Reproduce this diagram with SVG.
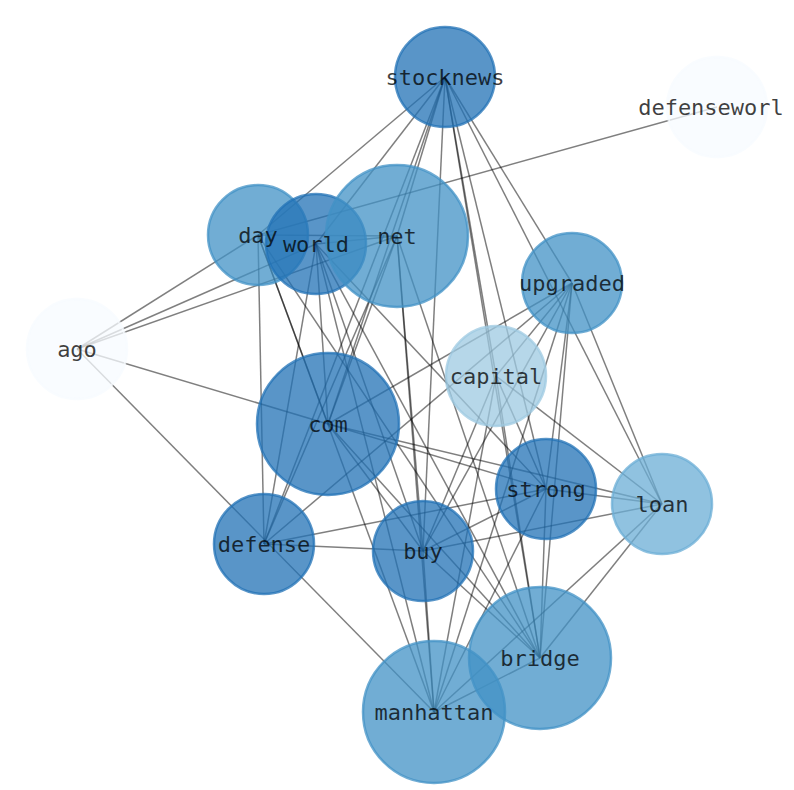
<svg xmlns="http://www.w3.org/2000/svg" width="794" height="790" viewBox="0 0 794 790">
<style>
.e{stroke:#000;stroke-opacity:0.5;stroke-width:1.5;fill:none}
.n{fill-opacity:0.75;stroke-opacity:0.75;stroke-width:2.5}
.c1{fill:#2171b5;stroke:#2171b5}
.c2{fill:#4292c6;stroke:#4292c6}
.c3{fill:#6baed6;stroke:#6baed6}
.c4{fill:#9ecae1;stroke:#9ecae1}
.c5{fill:#f7fbff;stroke:#f7fbff}
.t{font-family:"DejaVu Sans Mono","Liberation Mono",monospace;font-size:22px;fill:#000;fill-opacity:0.75;text-anchor:middle}
</style>
<rect width="794" height="790" fill="#fff"/>
<g id="edges">
<line class="e" x1="445" y1="77" x2="258" y2="235"/>
<line class="e" x1="445" y1="77" x2="316" y2="244"/>
<line class="e" x1="445" y1="77" x2="397" y2="236"/>
<line class="e" x1="445" y1="77" x2="328" y2="424"/>
<line class="e" x1="445" y1="77" x2="264" y2="544"/>
<line class="e" x1="445" y1="77" x2="423" y2="551"/>
<line class="e" x1="445" y1="77" x2="496" y2="376"/>
<line class="e" x1="445" y1="77" x2="546" y2="489"/>
<line class="e" x1="445" y1="77" x2="540" y2="658"/>
<line class="e" x1="445" y1="77" x2="572" y2="283"/>
<line class="e" x1="445" y1="77" x2="662" y2="504"/>
<line class="e" x1="717" y1="107" x2="258" y2="235"/>
<line class="e" x1="77" y1="349" x2="258" y2="235"/>
<line class="e" x1="77" y1="349" x2="316" y2="244"/>
<line class="e" x1="77" y1="349" x2="397" y2="236"/>
<line class="e" x1="77" y1="349" x2="328" y2="424"/>
<line class="e" x1="77" y1="349" x2="434" y2="712"/>
<line class="e" x1="258" y1="235" x2="397" y2="236"/>
<line class="e" x1="258" y1="235" x2="264" y2="544"/>
<line class="e" x1="258" y1="235" x2="328" y2="424"/>
<line class="e" x1="258" y1="235" x2="434" y2="712"/>
<line class="e" x1="258" y1="235" x2="540" y2="658"/>
<line class="e" x1="316" y1="244" x2="397" y2="236"/>
<line class="e" x1="316" y1="244" x2="328" y2="424"/>
<line class="e" x1="316" y1="244" x2="264" y2="544"/>
<line class="e" x1="316" y1="244" x2="423" y2="551"/>
<line class="e" x1="316" y1="244" x2="546" y2="489"/>
<line class="e" x1="316" y1="244" x2="540" y2="658"/>
<line class="e" x1="316" y1="244" x2="434" y2="712"/>
<line class="e" x1="397" y1="236" x2="328" y2="424"/>
<line class="e" x1="397" y1="236" x2="264" y2="544"/>
<line class="e" x1="397" y1="236" x2="423" y2="551"/>
<line class="e" x1="397" y1="236" x2="434" y2="712"/>
<line class="e" x1="397" y1="236" x2="540" y2="658"/>
<line class="e" x1="572" y1="283" x2="496" y2="376"/>
<line class="e" x1="572" y1="283" x2="328" y2="424"/>
<line class="e" x1="572" y1="283" x2="264" y2="544"/>
<line class="e" x1="572" y1="283" x2="423" y2="551"/>
<line class="e" x1="572" y1="283" x2="546" y2="489"/>
<line class="e" x1="572" y1="283" x2="540" y2="658"/>
<line class="e" x1="572" y1="283" x2="434" y2="712"/>
<line class="e" x1="572" y1="283" x2="662" y2="504"/>
<line class="e" x1="496" y1="376" x2="423" y2="551"/>
<line class="e" x1="496" y1="376" x2="540" y2="658"/>
<line class="e" x1="496" y1="376" x2="434" y2="712"/>
<line class="e" x1="496" y1="376" x2="662" y2="504"/>
<line class="e" x1="496" y1="376" x2="546" y2="489"/>
<line class="e" x1="328" y1="424" x2="546" y2="489"/>
<line class="e" x1="328" y1="424" x2="662" y2="504"/>
<line class="e" x1="328" y1="424" x2="423" y2="551"/>
<line class="e" x1="328" y1="424" x2="540" y2="658"/>
<line class="e" x1="546" y1="489" x2="662" y2="504"/>
<line class="e" x1="546" y1="489" x2="423" y2="551"/>
<line class="e" x1="546" y1="489" x2="264" y2="544"/>
<line class="e" x1="546" y1="489" x2="540" y2="658"/>
<line class="e" x1="546" y1="489" x2="434" y2="712"/>
<line class="e" x1="662" y1="504" x2="423" y2="551"/>
<line class="e" x1="662" y1="504" x2="540" y2="658"/>
<line class="e" x1="662" y1="504" x2="434" y2="712"/>
<line class="e" x1="423" y1="551" x2="264" y2="544"/>
<line class="e" x1="423" y1="551" x2="434" y2="712"/>
<line class="e" x1="423" y1="551" x2="540" y2="658"/>
<line class="e" x1="540" y1="658" x2="434" y2="712"/>
</g>
<g id="nodes">
<g id="node-ago"><circle class="n c5" cx="77" cy="349" r="50"/></g>
<g id="node-defenseworl"><circle class="n c5" cx="717" cy="107" r="50"/></g>
<g id="node-capital"><circle class="n c4" cx="496" cy="376" r="50"/></g>
<g id="node-loan"><circle class="n c3" cx="662" cy="504" r="50"/></g>
<g id="node-stocknews"><circle class="n c1" cx="445" cy="77" r="50"/></g>
<g id="node-upgraded"><circle class="n c2" cx="572" cy="283" r="50"/></g>
<g id="node-day"><circle class="n c2" cx="258" cy="235" r="50"/></g>
<g id="node-world"><circle class="n c1" cx="316" cy="244" r="50"/></g>
<g id="node-net"><circle class="n c2" cx="397" cy="236" r="71"/></g>
<g id="node-com"><circle class="n c1" cx="328" cy="424" r="71"/></g>
<g id="node-strong"><circle class="n c1" cx="546" cy="489" r="50"/></g>
<g id="node-defense"><circle class="n c1" cx="264" cy="544" r="50"/></g>
<g id="node-buy"><circle class="n c1" cx="423" cy="551" r="50"/></g>
<g id="node-bridge"><circle class="n c2" cx="540" cy="658" r="71"/></g>
<g id="node-manhattan"><circle class="n c2" cx="434" cy="712" r="71"/></g>
</g>
<g id="labels">
<text id="label-ago" class="t" x="77" y="357">ago</text>
<text id="label-defenseworl" class="t" x="711" y="115">defenseworl</text>
<text id="label-capital" class="t" x="496" y="384">capital</text>
<text id="label-loan" class="t" x="662" y="512">loan</text>
<text id="label-stocknews" class="t" x="445" y="85">stocknews</text>
<text id="label-upgraded" class="t" x="572" y="291">upgraded</text>
<text id="label-day" class="t" x="258" y="243">day</text>
<text id="label-world" class="t" x="316" y="252">world</text>
<text id="label-net" class="t" x="397" y="244">net</text>
<text id="label-com" class="t" x="328" y="432">com</text>
<text id="label-strong" class="t" x="546" y="497">strong</text>
<text id="label-defense" class="t" x="264" y="552">defense</text>
<text id="label-buy" class="t" x="423" y="559">buy</text>
<text id="label-bridge" class="t" x="540" y="666">bridge</text>
<text id="label-manhattan" class="t" x="434" y="720">manhattan</text>
</g>
</svg>
